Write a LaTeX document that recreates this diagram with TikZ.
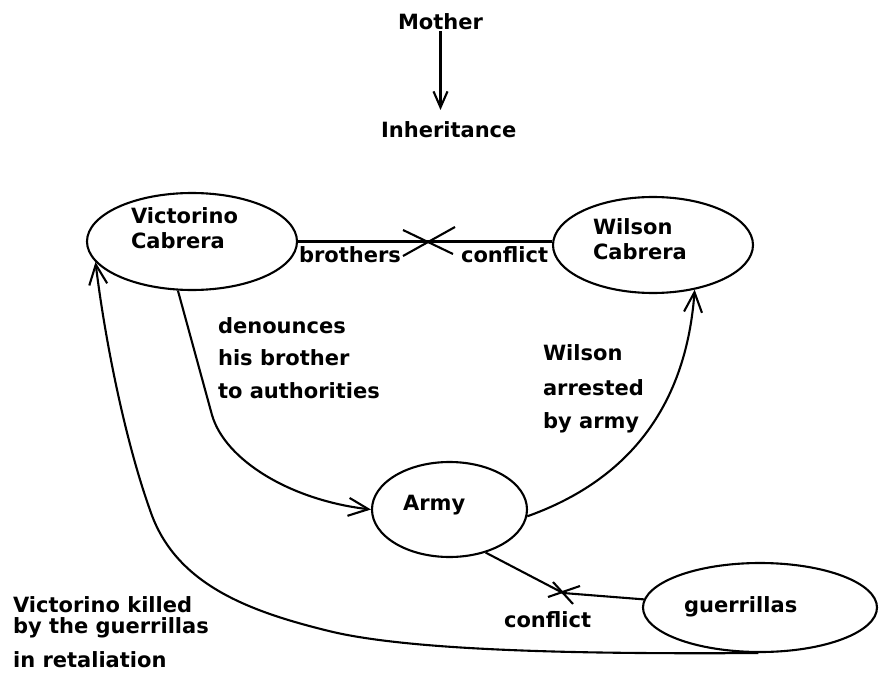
\documentclass[tikz,border=0pt]{standalone}
\usepackage{fontspec}
\setmainfont{DejaVu Sans}
\usepackage{tikz}
\usetikzlibrary{shapes,arrows.meta,positioning,calc}

\begin{document}
\begin{tikzpicture}[x=1pt, y=-1pt, line width=2.1pt,
    every node/.style={font=\bfseries\fontsize{21}{25}\selectfont, inner sep=0pt},
    lbl/.style={anchor=base west, align=left},
    party/.style={ellipse, draw, line width=2.1pt},
    barb/.style={-{Straight Barb[length=20pt,width=18pt]}}]

    \useasboundingbox (0,0) rectangle (879,677);

    \node[lbl] (mother) at (397,30) {Mother};
    \node[lbl] (inherit) at (380,137) {Inheritance};

    \node[party, minimum width=210pt, minimum height=97pt] (victorino) at (192,241.5) {};
    \node[party, minimum width=200pt, minimum height=96pt] (wilson) at (653,245) {};
    \node[party, minimum width=155pt, minimum height=95pt] (army) at (449.5,509.5) {};
    \node[party, minimum width=234pt, minimum height=89pt] (guerrillas) at (760,607.5) {};

    \node[lbl] (victorinoName) at (130,248) {Victorino\\Cabrera};
    \node[lbl] (wilsonName) at (592,259) {Wilson\\Cabrera};
    \node[lbl] (armyName) at (402,510) {Army};
    \node[lbl] (guerrillasName) at (683,612) {guerrillas};

    \node[lbl] (brothers) at (298,262) {brothers};
    \node[lbl] (conflictTop) at (460,262) {conflict};
    \node[lbl] (denounce) at (217,398) {denounces\\[7.5pt]his brother\\[7.5pt]to authorities};
    \node[lbl] (arrested) at (542,428) {Wilson\\[10pt]arrested\\[8pt]by army};
    \node[lbl] (conflictLow) at (503,627) {conflict};
    \node[lbl] (killed) at (12,667) {Victorino killed\\[-4pt]by the guerrillas\\[9pt]in retaliation};

    \coordinate (cutTop) at (429,242);
    \coordinate (cutLow) at (563,593);

    \draw[-{Straight Barb[length=16pt,width=14pt]}, shorten >=10pt]
        (mother.south) -- (mother.south |- inherit.north);

    \draw (victorino.east) -- (victorino.east -| wilson.west);
    \draw ([shift={(-26,-12)}]cutTop) -- ([shift={(24,12)}]cutTop);
    \draw ([shift={(-26,14)}]cutTop) -- ([shift={(26,-15)}]cutTop);

    \draw[barb] (victorino.-106) -- (212,415)
        .. controls (225,460) and (290,500) .. (army.west);
    \draw[barb] (army.-5) .. controls (615,485) and (685,420) .. (wilson.-47);

    \draw (army.-50) -- (cutLow) -- (guerrillas.176);
    \draw ([shift={(-15,4)}]cutLow) -- ([shift={(17,-7)}]cutLow);
    \draw ([shift={(-10,-11)}]cutLow) -- ([shift={(10,11)}]cutLow);

    \draw[barb] (guerrillas.-92) .. controls (600,654) and (420,652) .. (333,632)
        .. controls (250,612) and (175,585) .. (150,510)
        .. controls (125,440) and (105,340) .. (victorino.192);
\end{tikzpicture}
\end{document}
